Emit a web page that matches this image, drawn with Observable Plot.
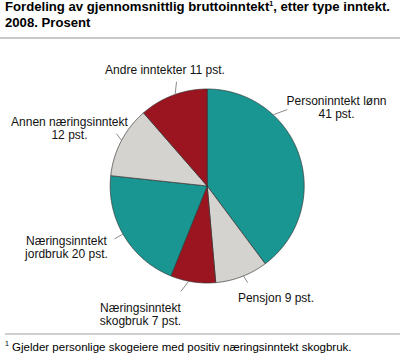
<!DOCTYPE html>
<html>
<head>
<meta charset="utf-8">
<script src="https://cdn.jsdelivr.net/npm/d3@7"></script>
<script src="https://cdn.jsdelivr.net/npm/@observablehq/plot@0.6"></script>
<style>
  html, body { margin: 0; padding: 0; background: #fff; }
  body { width: 400px; height: 357px; overflow: hidden; font-family: "Liberation Sans", Arial, sans-serif; color: #000; }
  #title { font-weight: bold; font-size: 13.15px; line-height: 16px; padding-left: 5px; margin-top: -1px; height: 38px; white-space: nowrap; }
  #rule1 { height: 2px; background: #c8c8c8; margin-top: 0; }
  #chart { height: 292px; }
  #rule2 { height: 2px; background: #cfcfcf; margin-left: 5px; margin-top: 2px; }
  #foot { font-size: 11.5px; line-height: 13px; padding-left: 5px; margin-top: 6px; white-space: nowrap; }
  sup { font-size: 7px; vertical-align: 5px; line-height: 0; }
</style>
</head>
<body>
<div id="title">Fordeling av gjennomsnittlig bruttoinntekt<sup>1</sup>, etter type inntekt.<br>2008. Prosent</div>
<div id="rule1"></div>
<div id="chart"></div>
<div id="rule2"></div>
<div id="foot"><sup>1</sup> Gjelder personlige skogeiere med positiv næringsinntekt skogbruk.</div>
<script>
// ---- data ----
const categories = ["Personinntekt lønn", "Pensjon", "Næringsinntekt skogbruk", "Næringsinntekt jordbruk", "Annen næringsinntekt", "Andre inntekter"];
const shares = [39.8, 8.8, 7.5, 20.6, 11.9, 11.4];          // slice sizes as drawn
const pctLabels = [41, 9, 7, 20, 12, 11];                    // percentages printed in labels
const labelTexts = [
  "Personinntekt lønn\n41 pst.",
  "Pensjon 9 pst.",
  "Næringsinntekt\nskogbruk 7 pst.",
  "Næringsinntekt\njordbruk 20 pst.",
  "Annen næringsinntekt\n12 pst.",
  "Andre inntekter 11 pst."
];

// ---- layout / style (not data) ----
const colors = ["#1a9692", "#d5d3cf", "#9b1520", "#1a9692", "#d5d3cf", "#9b1520"];
const W = 400, H = 292, CX = 206.7, CY = 146.5, R = 97;
// label block centres in radius units (x right, y up)
const labelPos = [[1.333, 0.812], [0.709, -1.152], [-0.688, -1.322], [-1.451, -0.631], [-1.420, 0.596], [-0.435, 1.199]];
// leader lines: inner angle, outer angle (deg clockwise from top), outer radius
const leaders = [[42.8, 46.3, 1.14], [158, 157.3, 1.08], [191, 194, 1.12], [240.3, 240.3, 1.1], [298, 300, 1.08], [340.7, 343.6, 1.12]];

const total = d3.sum(shares);
const rad = d => d * Math.PI / 180;
let acc = 0;
const slicePts = [];
shares.forEach((v, i) => {
  const a0 = acc / total * 360, a1 = (acc + v) / total * 360;
  acc += v;
  slicePts[i] = [];
  slicePts[i].push({x: 0, y: 0});
  const n = Math.max(2, Math.ceil(a1 - a0) * 2);
  for (let k = 0; k <= n; k++) {
    const a = rad(a0 + (a1 - a0) * k / n);
    slicePts[i].push({x: Math.sin(a), y: Math.cos(a)});
  }
  slicePts[i].push({x: 0, y: 0});
});

const leaderData = leaders.map(([ai, ao, ro], i) => ({
  x1: Math.sin(rad(ai)), y1: Math.cos(rad(ai)),
  x2: ro * Math.sin(rad(ao)), y2: ro * Math.cos(rad(ao)), cat: categories[i]
}));
const labelData = labelTexts.map((t, i) => ({x: labelPos[i][0], y: labelPos[i][1], text: t, pct: pctLabels[i]}));

const marks = slicePts.map((pts, i) =>
  Plot.line(pts, {x: "x", y: "y", fill: colors[i], stroke: "#333", strokeWidth: 0.7, strokeLinejoin: "round", curve: "linear"})
);
marks.push(Plot.link(leaderData, {x1: "x1", y1: "y1", x2: "x2", y2: "y2", stroke: "#8a8a8a", strokeWidth: 1}));
marks.push(Plot.text(labelData, {x: "x", y: "y", text: "text", fontSize: 12, lineHeight: 1.1, fill: "#111", textAnchor: "middle", lineAnchor: "middle"}));

const chart = Plot.plot({
  width: W, height: H,
  margin: 0,
  x: {domain: [-CX / R, (W - CX) / R], axis: null},
  y: {domain: [(CY - H) / R, CY / R], axis: null},
  style: {fontFamily: "'Liberation Sans', Arial, sans-serif", background: "transparent", overflow: "visible"},
  marks
});
document.getElementById("chart").appendChild(chart);
</script>
</body>
</html>
